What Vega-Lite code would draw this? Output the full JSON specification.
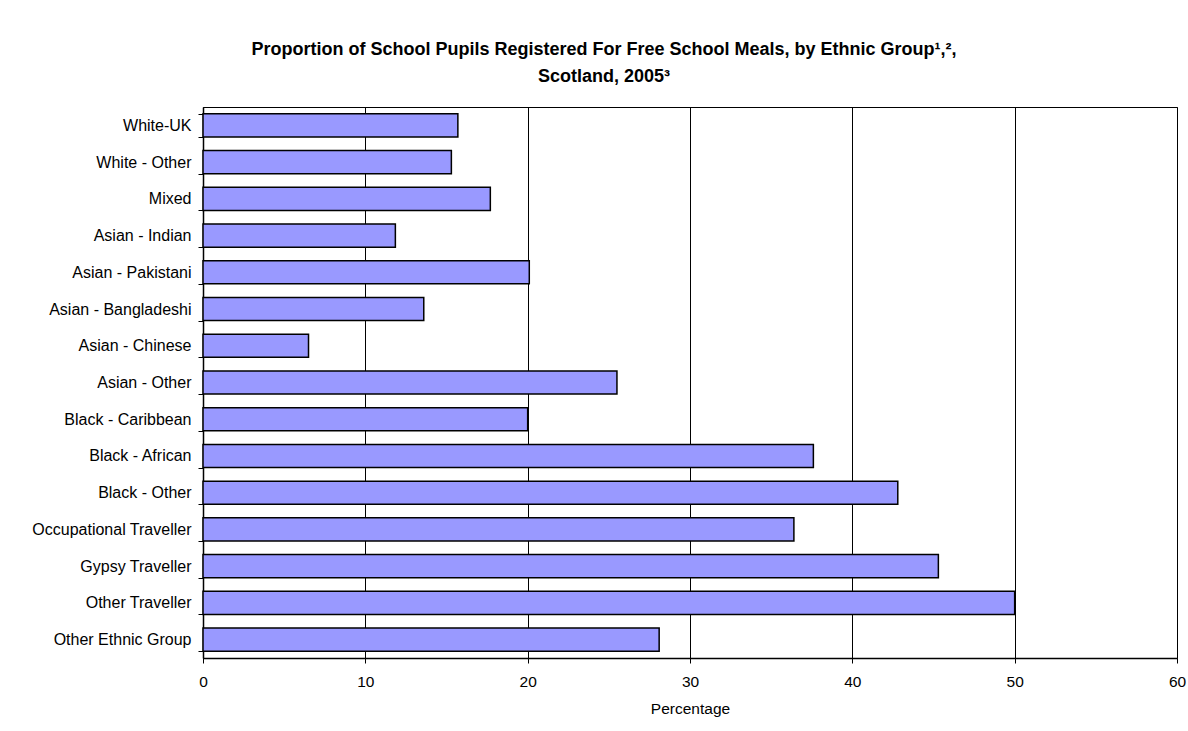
{
  "$schema": "https://vega.github.io/schema/vega-lite/v6.json",
  "autosize": {"type": "none"},
  "padding": {"left": 203, "top": 107, "right": 11, "bottom": 73},
  "width": 974,
  "height": 551,
  "background": "white",
  "title": {
    "text": ["Proportion of School Pupils Registered For Free School Meals, by Ethnic Group¹,²,", "Scotland, 2005³"],
    "font": "Liberation Sans",
    "fontSize": 18,
    "fontWeight": "bold",
    "color": "black",
    "lineHeight": 27.5,
    "anchor": "middle",
    "baseline": "alphabetic",
    "offset": -1,
    "dx": -86
  },
  "data": {
    "values": [
      {"group": "White-UK", "pct": 15.7},
      {"group": "White - Other", "pct": 15.3},
      {"group": "Mixed", "pct": 17.7},
      {"group": "Asian - Indian", "pct": 11.85},
      {"group": "Asian - Pakistani", "pct": 20.1},
      {"group": "Asian - Bangladeshi", "pct": 13.6},
      {"group": "Asian - Chinese", "pct": 6.5},
      {"group": "Asian - Other", "pct": 25.5},
      {"group": "Black - Caribbean", "pct": 20.0},
      {"group": "Black - African", "pct": 37.6},
      {"group": "Black - Other", "pct": 42.8},
      {"group": "Occupational Traveller", "pct": 36.4},
      {"group": "Gypsy Traveller", "pct": 45.3},
      {"group": "Other Traveller", "pct": 50.0},
      {"group": "Other Ethnic Group", "pct": 28.1}
    ]
  },
  "mark": {"type": "bar", "color": "#9999FF", "stroke": "black", "strokeWidth": 1.5},
  "encoding": {
    "y": {
      "field": "group",
      "type": "nominal",
      "sort": null,
      "scale": {"paddingInner": 0.37, "paddingOuter": 0.185},
      "axis": {
        "title": null,
        "tickBand": "extent",
        "tickSize": 5,
        "tickColor": "black",
        "tickWidth": 1,
        "labelPadding": 7,
        "labelFont": "Liberation Sans",
        "labelFontSize": 16,
        "labelColor": "black",
        "domainColor": "black",
        "domainWidth": 1.5,
        "grid": false
      }
    },
    "x": {
      "field": "pct",
      "type": "quantitative",
      "scale": {"domain": [0, 60], "nice": false},
      "axis": {
        "title": "Percentage",
        "values": [0, 10, 20, 30, 40, 50, 60],
        "tickSize": 5,
        "tickColor": "black",
        "labelPadding": 11,
        "labelFlush": false,
        "labelFont": "Liberation Sans",
        "labelFontSize": 15.5,
        "labelColor": "black",
        "titleFont": "Liberation Sans",
        "titleFontSize": 15.5,
        "titleFontWeight": "normal",
        "titleColor": "black",
        "titlePadding": 12,
        "domainColor": "black",
        "domainWidth": 1.5,
        "grid": true,
        "gridColor": "black",
        "gridWidth": 1,
        "gridOpacity": 1
      }
    }
  },
  "config": {
    "view": {"stroke": "black", "strokeWidth": 1}
  }
}
